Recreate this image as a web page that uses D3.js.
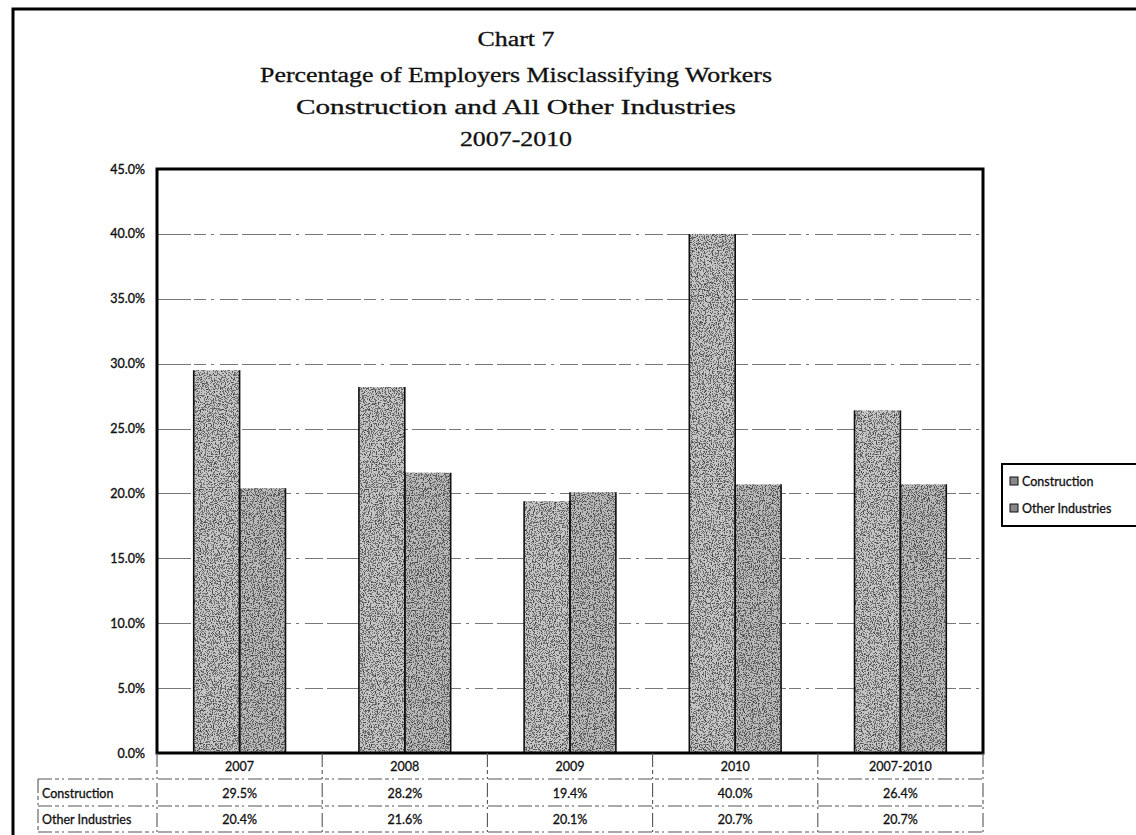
<!DOCTYPE html>
<html>
<head>
<meta charset="utf-8">
<script src="https://cdn.jsdelivr.net/npm/d3@7"></script>
<style>
  html, body { margin: 0; padding: 0; background: #fff; }
  svg { display: block; }
</style>
</head>
<body>
<svg id="chart" width="1136" height="835"></svg>
<script>
// Chart data
const categories = ["2007", "2008", "2009", "2010", "2007-2010"];
const seriesNames = ["Construction", "Other Industries"];
const construction = [0.295, 0.282, 0.194, 0.400, 0.264];
const otherIndustries = [0.204, 0.216, 0.201, 0.207, 0.207];
const yTicks = [0, 0.05, 0.10, 0.15, 0.20, 0.25, 0.30, 0.35, 0.40, 0.45];
const titleLines = [
  "Chart 7",
  "Percentage of Employers Misclassifying Workers",
  "Construction and All Other Industries",
  "2007-2010"
];

const seriesValues = { "Construction": construction, "Other Industries": otherIndustries };
const seriesFill = { "Construction": "#c4c4c4", "Other Industries": "#b8b8b8" };

const svg = d3.select("#chart");
const W = 1136, H = 835;

// Layout
const plot = { left: 157, right: 983, top: 169, bottom: 753 };
const rowH = [26, 27, 26];
const tableLeft = 38;
const pct = d3.format(".1%");
const sans = "Lato, sans-serif";

// Grain filter for the bar fill
const defs = svg.append("defs");
const f = defs.append("filter").attr("id", "grain")
  .attr("x", 0).attr("y", 0).attr("width", 1).attr("height", 1);
f.append("feTurbulence").attr("type", "fractalNoise").attr("baseFrequency", 0.85)
  .attr("numOctaves", 2).attr("seed", 4).attr("result", "noise");
f.append("feColorMatrix").attr("in", "noise").attr("type", "matrix")
  .attr("values", "0 0 0 0 0  0 0 0 0 0  0 0 0 0 0  1.6 0 0 0 -0.35").attr("result", "dots");
f.append("feComponentTransfer").attr("in", "dots").attr("result", "dots2")
  .append("feFuncA").attr("type", "discrete").attr("tableValues", "0 0 0.7 0.9");
f.append("feComposite").attr("in", "dots2").attr("in2", "SourceGraphic")
  .attr("operator", "in").attr("result", "speck");
const m = f.append("feMerge");
m.append("feMergeNode").attr("in", "SourceGraphic");
m.append("feMergeNode").attr("in", "speck");

// Outer frame
svg.append("path")
  .attr("d", `M13,${H + 5} L13,9 L${W + 5},9`)
  .attr("fill", "none").attr("stroke", "#000").attr("stroke-width", 3);

// Title: a book-style serif, widened a little so the long line spans ~512px
const title = svg.append("g").attr("font-family", "'Liberation Serif', serif")
  .attr("fill", "#111").attr("stroke", "#111").attr("stroke-width", 0.3)
  .attr("text-anchor", "middle").attr("font-size", 20);
const titleY = [46, 82, 114, 146];
const tNodes = titleLines.map((t, i) =>
  title.append("text").attr("x", 516).attr("y", titleY[i]).text(t));
const natural = tNodes.map(n => n.node().getComputedTextLength());
const stretch = 512 / natural[1];
const titleWidth = natural.map((w, i) => i === 2 ? Math.max(w * stretch, 440) : w * stretch);
tNodes.forEach((n, i) => n.attr("textLength", titleWidth[i])
  .attr("lengthAdjust", "spacingAndGlyphs"));

// Scales
const y = d3.scaleLinear().domain([0, 0.45]).range([plot.bottom, plot.top]);
const x0 = d3.scaleBand().domain(categories).range([plot.left, plot.right])
  .paddingInner(0).paddingOuter(0);
const x1 = d3.scaleBand().domain(seriesNames).range([0, x0.bandwidth()])
  .paddingInner(0).paddingOuter(0.8);

// Gridlines
svg.append("g")
  .selectAll("line")
  .data(yTicks.filter(v => v > 0 && v < 0.45))
  .join("line")
  .attr("x1", plot.left).attr("x2", plot.right)
  .attr("y1", d => Math.round(y(d)) + 0.5).attr("y2", d => Math.round(y(d)) + 0.5)
  .attr("stroke", "#777").attr("stroke-width", 1.1)
  .attr("stroke-dasharray", "34,3,12,5,3,6,18,4");

// Y axis labels
const yAxis = d3.axisLeft(y).tickValues(yTicks).tickFormat(pct).tickSize(0).tickPadding(12);
const ya = svg.append("g").attr("transform", `translate(${plot.left},0)`).call(yAxis);
ya.select(".domain").remove();
ya.selectAll("text").attr("font-family", sans).attr("font-size", 12.5)
  .attr("fill", "#111").attr("stroke", "#111").attr("stroke-width", 0.35);

// Bars
const groups = svg.append("g").selectAll("g")
  .data(categories)
  .join("g")
  .attr("transform", d => `translate(${x0(d)},0)`);

groups.selectAll("rect")
  .data((c, i) => seriesNames.map(s => ({ s, v: seriesValues[s][i] })))
  .join("rect")
  .attr("x", d => x1(d.s))
  .attr("y", d => y(d.v))
  .attr("width", x1.bandwidth())
  .attr("height", d => y(0) - y(d.v))
  .attr("fill", d => seriesFill[d.s])
  .attr("filter", "url(#grain)");

// Bar side edges
groups.selectAll("path.edge")
  .data((c, i) => seriesNames.map(s => ({ s, v: seriesValues[s][i] })))
  .join("path")
  .attr("class", "edge")
  .attr("d", d => {
    const xl = x1(d.s), xr = x1(d.s) + x1.bandwidth();
    return `M${xl},${y(0)}V${y(d.v)}M${xr},${y(0)}V${y(d.v)}`;
  })
  .attr("stroke", "#111").attr("stroke-width", 1.6).attr("fill", "none");

// Plot frame
svg.append("rect")
  .attr("x", plot.left).attr("y", plot.top)
  .attr("width", plot.right - plot.left).attr("height", plot.bottom - plot.top)
  .attr("fill", "none").attr("stroke", "#000").attr("stroke-width", 3);

// Data table
const tbl = svg.append("g").attr("font-family", sans).attr("font-size", 12.5)
  .attr("fill", "#111").attr("stroke-width", 0.3);
const rowTop = [plot.bottom, plot.bottom + rowH[0], plot.bottom + rowH[0] + rowH[1]];
const tableBottom = rowTop[2] + rowH[2];
const dashStyle = sel => sel.attr("stroke", "#555").attr("stroke-width", 1.1)
  .attr("stroke-dasharray", "14,3,4,3,2,4");

// horizontal lines
[rowTop[1], rowTop[2], tableBottom].forEach(yy => {
  tbl.append("line").attr("x1", tableLeft).attr("x2", plot.right)
    .attr("y1", yy).attr("y2", yy).call(dashStyle);
});
// vertical separators
tbl.append("line").attr("x1", tableLeft).attr("x2", tableLeft)
  .attr("y1", rowTop[1]).attr("y2", tableBottom).call(dashStyle);
categories.forEach(c => {
  tbl.append("line").attr("x1", x0(c)).attr("x2", x0(c))
    .attr("y1", plot.bottom).attr("y2", tableBottom).call(dashStyle);
});
tbl.append("line").attr("x1", plot.right).attr("x2", plot.right)
  .attr("y1", plot.bottom).attr("y2", tableBottom).call(dashStyle);

// header row
tbl.selectAll("text.cat").data(categories).join("text")
  .attr("class", "cat")
  .attr("x", d => x0(d) + x0.bandwidth() / 2)
  .attr("y", rowTop[0] + rowH[0] / 2 + 5)
  .attr("text-anchor", "middle").attr("stroke", "#111").text(d => d);

// value rows
seriesNames.forEach((s, r) => {
  const cy = rowTop[r + 1] + rowH[r + 1] / 2 + 5;
  tbl.append("text").attr("x", tableLeft + 4).attr("y", cy)
    .attr("stroke", "#111").text(s);
  tbl.selectAll(null).data(seriesValues[s]).join("text")
    .attr("x", (d, i) => x0(categories[i]) + x0.bandwidth() / 2)
    .attr("y", cy).attr("text-anchor", "middle").attr("stroke", "#111")
    .text(d => pct(d));
});

// Legend
const lg = svg.append("g");
lg.append("path").attr("d", `M${W + 5},464 H1002 V526 H${W + 5}`)
  .attr("fill", "#fff").attr("stroke", "#000").attr("stroke-width", 2);
seriesNames.forEach((s, i) => {
  const ly = 481 + i * 27;
  lg.append("rect").attr("x", 1010).attr("y", ly - 4).attr("width", 8).attr("height", 8)
    .attr("fill", "#888").attr("stroke", "#111").attr("stroke-width", 1);
  lg.append("text").attr("x", 1022).attr("y", ly + 4.5)
    .attr("font-family", sans).attr("font-size", 12.5)
    .attr("fill", "#111").attr("stroke", "#111").attr("stroke-width", 0.3).text(s);
});
</script>
</body>
</html>
